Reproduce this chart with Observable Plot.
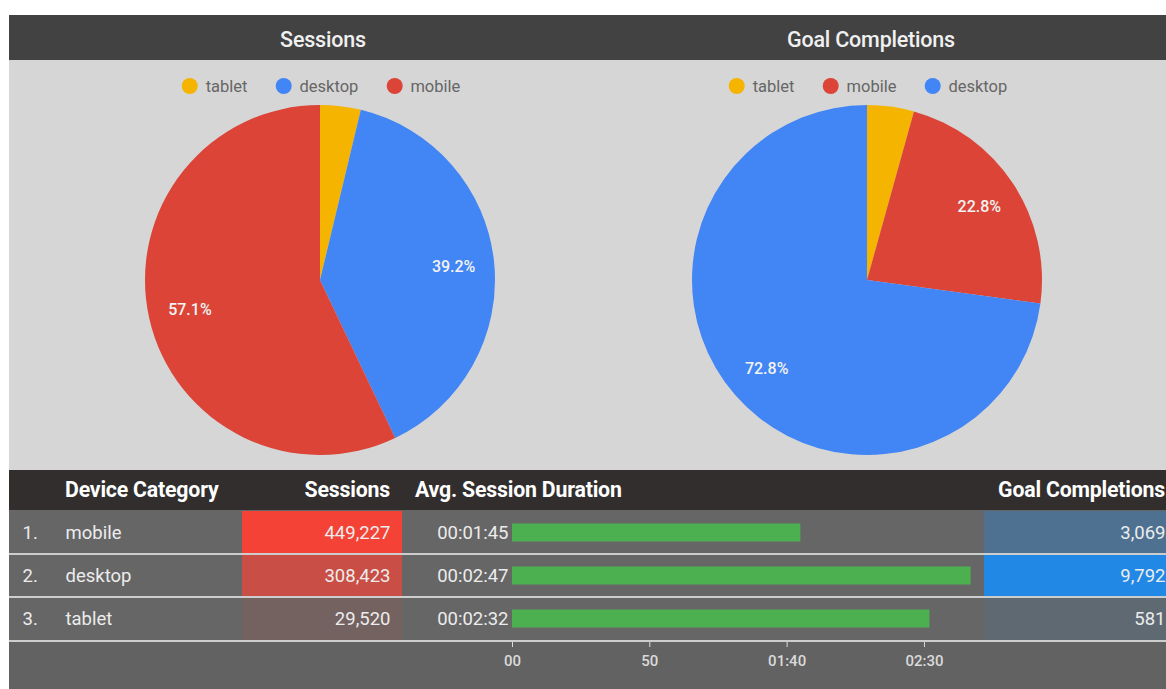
<!DOCTYPE html>
<html><head><meta charset="utf-8">
<script src="https://cdn.jsdelivr.net/npm/d3@7"></script>
<script src="https://cdn.jsdelivr.net/npm/@observablehq/plot@0.6"></script>
<style>
html,body{margin:0;padding:0}
body{width:1166px;height:689px;overflow:hidden;background:#fff;font-family:Roboto,"Noto Sans",sans-serif;position:relative}
.abs{position:absolute}
#topbar{left:9px;top:15px;width:1170px;height:45px;background:#424242}
#panel{left:9px;top:60px;width:1170px;height:410px;background:#d6d6d6}
.title{top:17px;height:45px;line-height:45px;color:#f0f0f0;font-size:21.5px;font-weight:500;transform:translateX(-50%);white-space:nowrap;letter-spacing:-0.2px}
.legend{top:76px;height:20px;display:flex;align-items:center;transform:translateX(-50%);white-space:nowrap;font-size:16.5px;color:#666}
.legend .item{display:flex;align-items:center;margin:0 14px}
.legend .sw{width:16px;height:16px;border-radius:50%;margin-right:8px}
#thead{left:9px;top:470px;width:1170px;height:40px;background:#312e2d}
.th{top:470px;height:40px;line-height:40px;color:#fff;font-weight:700;font-size:21.3px;white-space:nowrap;letter-spacing:-0.2px}
#tbody{left:9px;top:510px;width:1170px;height:131px;background:#666}
#tfoot{left:9px;top:641px;width:1170px;height:48px;background:#626262}
.sep{left:9px;width:1170px;height:2px;background:#cdcdcd}
svg{overflow:visible}
</style></head><body>
<div id="topbar" class="abs"></div>
<div id="panel" class="abs"></div>
<div id="thead" class="abs"></div>
<div id="tbody" class="abs"></div>
<div id="tfoot" class="abs"></div>
<div id="charts"></div>
<script>
// ---- data ----
const devices = ["mobile", "desktop", "tablet"];
const sessions = [449227, 308423, 29520];
const avgDurationSec = [105, 167, 152];
const avgDurationLabel = ["00:01:45", "00:02:47", "00:02:32"];
const goalCompletions = [3069, 9792, 581];
const deviceColors = {tablet: "#f4b400", desktop: "#4285f4", mobile: "#db4437"};
const durationTicks = [0, 50, 100, 150];
const durationTickLabels = ["00", "50", "01:40", "02:30"];
const chartTitles = ["Sessions", "Goal Completions"];
const columnHeaders = ["Device Category", "Sessions", "Avg. Session Duration", "Goal Completions"];

const root = document.getElementById("charts");
function place(node, left, top) {
  node.style.position = "absolute"; node.style.left = left + "px"; node.style.top = top + "px";
  root.appendChild(node); return node;
}
function el(cls, text, css) {
  const d = document.createElement("div"); d.className = "abs " + cls;
  if (text != null) d.textContent = text; Object.assign(d.style, css || {});
  root.appendChild(d); return d;
}

// ---- pies ----
function pieChart(values) {
  const rows = devices.map((d, i) => ({device: d, value: values[i]})).sort((a, b) => a.value - b.value);
  const total = d3.sum(rows, d => d.value);
  const arcs = d3.pie().sort(null).value(d => d.value)(rows);
  const labels = arcs.filter(a => a.data.value / total >= 0.05).map(a => {
    const m = (a.startAngle + a.endAngle) / 2;
    return {x: 0.765 * Math.sin(m), y: 0.765 * Math.cos(m), text: (a.data.value / total * 100).toFixed(1) + "%"};
  });
  const slices = (index, scales) => {
    const x0 = scales.x(0), y0 = scales.y(0), r = scales.x(1) - x0;
    const arc = d3.arc().innerRadius(0).outerRadius(r);
    const g = d3.create("svg:g").attr("transform", `translate(${x0},${y0})`);
    g.selectAll("path").data(arcs).join("path").attr("d", arc).attr("fill", d => deviceColors[d.data.device]);
    return g.node();
  };
  const plot = Plot.plot({
    width: 360, height: 360, margin: 5,
    x: {domain: [-1, 1], axis: null}, y: {domain: [-1, 1], axis: null},
    style: {background: "transparent", fontFamily: "Roboto"},
    marks: [slices, Plot.text(labels, {x: "x", y: "y", text: "text", fill: "#f3f3f3", fontSize: 16, fontWeight: 500})]
  });
  return {plot, order: rows.map(d => d.device)};
}
const pieCenters = [320, 867];
[sessions, goalCompletions].forEach((vals, k) => {
  const {plot, order} = pieChart(vals);
  place(plot, pieCenters[k] - 180, 280 - 180);
  el("title", chartTitles[k], {left: (k === 0 ? 323 : 871) + "px"});
  const lg = el("legend", null, {left: (pieCenters[k] + 1) + "px"});
  order.forEach(dv => {
    const it = document.createElement("div"); it.className = "item";
    const sw = document.createElement("div"); sw.className = "sw"; sw.style.background = deviceColors[dv];
    const tx = document.createElement("span"); tx.textContent = dv;
    it.append(sw, tx); lg.appendChild(it);
  });
});

// ---- table ----
const rows = devices.map((d, i) => ({rank: (i + 1) + ".", device: d, sessions: sessions[i], dur: avgDurationSec[i], durLabel: avgDurationLabel[i], goals: goalCompletions[i]}));
const yBand = {type: "band", domain: devices, padding: 0, axis: null};
const fmt = d3.format(",");
const txt = {fill: "#ececec", fontSize: 18.5};
const baseStyle = {background: "transparent", fontFamily: "Roboto", overflow: "visible"};

place(Plot.plot({width: 233, height: 131, margin: 0, y: yBand, style: baseStyle, marks: [
  Plot.text(rows, {y: "device", text: "rank", frameAnchor: "left", textAnchor: "start", dx: 13, ...txt}),
  Plot.text(rows, {y: "device", text: "device", frameAnchor: "left", textAnchor: "start", dx: 56, ...txt})
]}), 9, 510);

place(Plot.plot({width: 160, height: 131, margin: 0, y: yBand, opacity: {domain: [0, d3.max(sessions)], range: [0.04, 1]}, style: baseStyle, marks: [
  Plot.cell(rows, {y: "device", fill: "#f44336", fillOpacity: "sessions"}),
  Plot.text(rows, {y: "device", text: d => fmt(d.sessions), frameAnchor: "right", textAnchor: "end", dx: -12, ...txt})
]}), 242, 510);

place(Plot.plot({width: 582, height: 179, marginTop: 0, marginBottom: 48, marginLeft: 110, marginRight: 1,
  x: {domain: [0, 171.5]}, y: yBand, style: baseStyle, marks: [
  Plot.barX(rows, {x: "dur", y: "device", fill: "#4caf50", insetTop: 12.5, insetBottom: 12.5}),
  Plot.text(rows, {x: 0, y: "device", text: "durLabel", textAnchor: "end", dx: -4, fill: "#ececec", fontSize: 18.5}),
  Plot.axisX({ticks: durationTicks, tickFormat: d => durationTickLabels[durationTicks.indexOf(d)], tickSize: 6, tickPadding: 8, color: "#dadada", fontSize: 15, fontWeight: 500, label: null})
]}), 402, 510);

place(Plot.plot({width: 196, height: 131, margin: 0, y: yBand, opacity: {domain: [0, d3.max(goalCompletions)], range: [0.04, 1]}, style: baseStyle, marks: [
  Plot.cell(rows, {y: "device", fill: "#2188e5", fillOpacity: "goals"}),
  Plot.text(rows, {y: "device", text: d => fmt(d.goals), frameAnchor: "right", textAnchor: "end", dx: -15, ...txt})
]}), 984, 510);

// header texts
el("th", columnHeaders[0], {left: "65px"});
el("th", columnHeaders[1], {right: (1166 - 390) + "px"});
el("th", columnHeaders[2], {left: "415px"});
el("th", columnHeaders[3], {right: "1px"});

// row separators
const rowH = 131 / devices.length;
devices.forEach((d, i) => el("sep", null, {top: (510 + rowH * (i + 1) - 1) + "px"}));
</script>
</body></html>
